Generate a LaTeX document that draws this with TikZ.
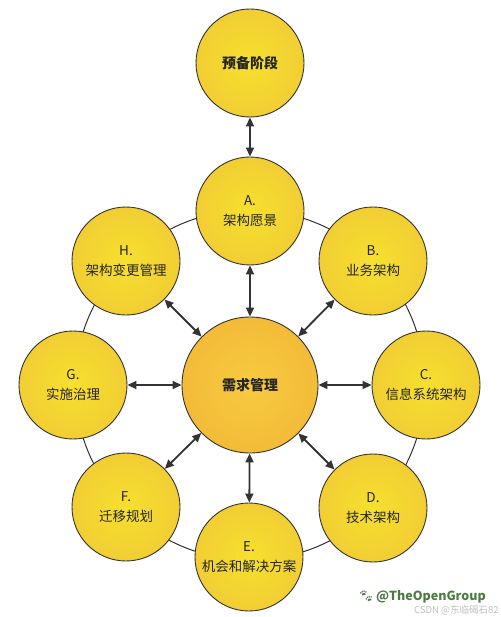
\documentclass[tikz,border=0pt]{standalone}
\usepackage{fontspec}
\newfontfamily\cjk{Noto Sans CJK SC}
\newfontfamily\emo{Noto Emoji}
\usetikzlibrary{arrows.meta}
\definecolor{yc}{HTML}{F6E02E}
\definecolor{ym}{HTML}{F2D033}
\definecolor{yo}{HTML}{ECB63A}
\definecolor{oc}{HTML}{F7CB40}
\definecolor{om}{HTML}{F3BB38}
\definecolor{oo}{HTML}{EEA233}
\definecolor{edge}{HTML}{333333}
\definecolor{wmgreen}{HTML}{4E7A45}
\pgfdeclareradialshading{ballY}{\pgfpoint{0bp}{0bp}}{color(0bp)=(yc); color(22bp)=(ym); color(50bp)=(yo)}
\pgfdeclareradialshading{ballO}{\pgfpoint{0bp}{0bp}}{color(0bp)=(oc); color(25bp)=(om); color(50bp)=(oo)}
\tikzset{
  phase/.style={circle, draw=edge, line width=0.9pt, shading=ballY, minimum size=108pt, inner sep=0pt,
    align=center, font=\cjk\fontsize{13.5}{20}\selectfont, text=black!85},
  hub/.style={circle, draw=edge, line width=0.9pt, shading=ballO, minimum size=136pt, inner sep=0pt,
    align=center, font=\cjk\bfseries\fontsize{14}{20}\selectfont, text=black!85},
  link/.style={{Triangle[length=9pt,width=8pt]}-{Triangle[length=9pt,width=8pt]}, line width=1.8pt, draw=black!80},
  ring/.style={draw=edge, line width=1pt}
}
\begin{document}
\begin{tikzpicture}[x=1pt,y=-1pt]
\useasboundingbox (0,0) rectangle (500,617);
\coordinate (o) at (250,385);
\draw[ring] (o) circle[radius=175pt];
\node[phase, font=\cjk\bfseries\fontsize{14}{20}\selectfont] (pre) at (250,63) {预备阶段};
\node[hub] (rm) at (250,385) {需求管理};
\node[phase] (A) at (250,211) {A.\\架构愿景};
\node[phase] (B) at (373,261) {B.\\业务架构};
\node[phase] (C) at (426,385) {C.\\信息系统架构};
\node[phase] (D) at (373,508) {D.\\技术架构};
\node[phase] (E) at (249,557) {E.\\机会和解决方案};
\node[phase] (F) at (126,507) {F.\\迁移规划};
\node[phase] (G) at (73,385) {G.\\实施治理};
\node[phase] (H) at (126,261) {H.\\架构变更管理};
\draw[link] (pre) -- (A);
\foreach \n in {A,B,C,D,E,F,G,H} \draw[link] (rm) -- (\n);
\node[anchor=west, inner sep=0pt, text=wmgreen, font=\fontsize{12.5}{12.5}\selectfont] (wm1) at (358,597) {{\emo 🐾}\,{\cjk\bfseries @TheOpenGroup}};
\node[anchor=west, inner sep=0pt, text=black!25, font=\cjk\fontsize{9.5}{9.5}\selectfont] (wm2) at (414,610) {CSDN @东临碣石82};
\end{tikzpicture}
\end{document}
